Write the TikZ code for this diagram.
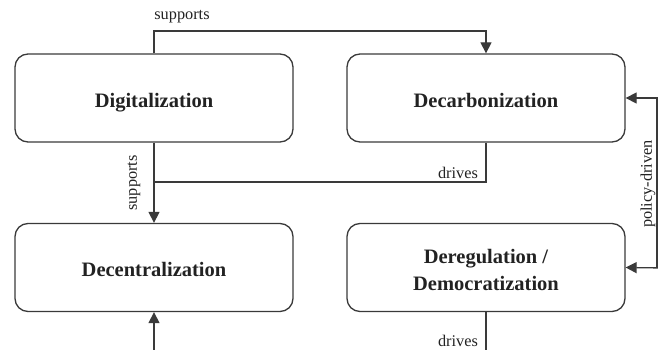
\documentclass[tikz,border=0pt]{standalone}
\usepackage{fontspec}
\setmainfont{Liberation Serif}
\usetikzlibrary{arrows.meta}
\definecolor{lineC}{HTML}{3a3a3a}
\definecolor{textC}{HTML}{222222}
\begin{document}
\begin{tikzpicture}[x=1pt,y=-1pt,
  box/.style={draw=lineC, line width=1.3pt, rounded corners=13pt, minimum width=278pt, minimum height=88pt, inner sep=0pt, align=center, text=textC, text height=22.5pt, text depth=4.5pt, font=\fontsize{20.5}{27}\selectfont\bfseries},
  twoline/.style={text height=50.5pt},
  conn/.style={draw=lineC, line width=1.3pt},
  arr/.style={conn, -{Triangle[length=11pt,width=11pt]}},
  lbl/.style={text=textC, font=\fontsize{16.3}{18}\selectfont, inner sep=0pt}]
\useasboundingbox (0,0) rectangle (658,350);
\clip (0,0) rectangle (658,350);
\node[box] (dig) at (154,98) {Digitalization};
\node[box] (dcb) at (486,98) {Decarbonization};
\node[box] (dce) at (154,267.5) {Decentralization};
\node[box, twoline] (der) at (486,267.5) {Deregulation /\\Democratization};
\coordinate (topL) at (154,31);
\coordinate (topR) at (486,31);
\coordinate (mid) at (154,182);
\coordinate (midR) at (486,182);
\coordinate (botL) at (154,360);
\coordinate (botR) at (486,360);
\coordinate (rA) at (657,98);
\coordinate (rB) at (657,268);
\coordinate (rAx) at (665,98);
\coordinate (rBx) at (665,268);
% digitalization supports decarbonization
\draw[arr] (dig.north) -- (topL) -- (topR) -- (dcb.north);
% digitalization supports decentralization
\draw[arr] (dig.south) -- (dce.north);
% decarbonization drives
\draw[conn] (dcb.south) -- (midR) -- (mid);
% bottom inputs
\draw[arr] (botL) -- (dce.south);
\draw[conn] (der.south) -- (botR);
% policy-driven
\draw[conn] (rA) -- (rB);
\draw[arr] (rAx) -- (dcb.east);
\draw[arr] (rBx) -- (der.east);
% labels
\node[lbl] (l1) at (182,17) {supports};
\node[lbl, rotate=90] (l2) at (134,183) {supports};
\node[lbl] (l3) at (458,173) {drives};
\node[lbl] (l4) at (458,341) {drives};
\node[lbl, rotate=90] (l5) at (648,184) {policy-driven};
\end{tikzpicture}
\end{document}
